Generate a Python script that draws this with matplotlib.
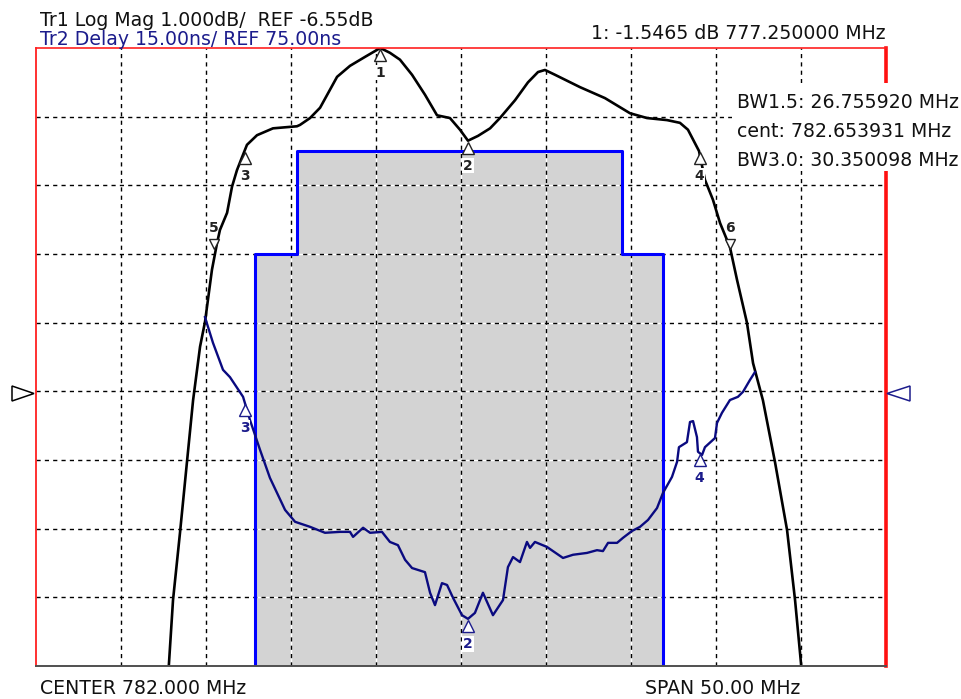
import numpy as np
import matplotlib
matplotlib.use('Agg')
import matplotlib.pyplot as plt
from matplotlib.patches import Polygon, Rectangle
from matplotlib.transforms import offset_copy

# analyzer scale settings
center_mhz = 782.0
span_mhz = 50.0
ref_db, db_div = -6.55, 1.0
ref_ns, ns_div = 75.0, 15.0
div_above, div_below = 5, 4   # ref line is 5 div below top, 4 above bottom

# Tr1 log mag (MHz, dB)
mag_f = [764.76, 765.06, 765.47, 765.88, 766.24, 766.65, 766.94, 767.35, 767.65, 767.82,
         768.24, 768.53, 768.82, 769.12, 769.41, 770.00, 770.94, 772.35, 772.53, 773.12,
         773.71, 774.71, 775.47, 776.35, 777.25, 777.82, 778.41, 779.12, 779.88, 780.59,
         781.35, 781.94, 782.41, 783.00, 783.71, 784.29, 785.18, 785.94, 786.53, 786.94,
         787.53, 789.00, 790.47, 791.94, 792.94, 794.12, 794.88, 795.35, 796.00, 796.35,
         796.82, 797.24, 797.82, 798.24, 798.82, 799.18, 799.76, 800.47, 801.18, 801.65,
         802.00, 802.06]
mag_db = [-10.75, -9.59, -8.61, -7.58, -6.68, -5.90, -5.54, -4.78, -4.39, -4.20,
          -3.95, -3.57, -3.33, -3.14, -2.96, -2.82, -2.72, -2.69, -2.67, -2.57,
          -2.42, -1.97, -1.81, -1.68, -1.55, -1.62, -1.72, -1.94, -2.23, -2.53,
          -2.57, -2.74, -2.90, -2.83, -2.72, -2.57, -2.31, -2.05, -1.90, -1.87,
          -1.94, -2.12, -2.28, -2.50, -2.57, -2.60, -2.64, -2.74, -3.05, -3.47,
          -3.76, -4.10, -4.45, -4.93, -5.55, -6.14, -6.68, -7.58, -8.57, -9.59,
          -10.51, -10.75]

# Tr2 group delay (MHz, ns)
dly_f = [766.94, 767.41, 768.00, 768.41, 769.18, 769.59, 770.18, 770.76, 771.65, 772.24,
         773.12, 774.00, 774.88, 775.47, 775.65, 776.24, 776.65, 777.35, 777.82, 778.29,
         778.71, 779.12, 779.88, 780.18, 780.47, 780.88, 781.18, 781.53, 782.06, 782.41,
         782.82, 783.29, 783.88, 784.47, 784.76, 785.06, 785.47, 785.88, 786.06, 786.35,
         787.06, 788.00, 788.59, 789.41, 790.00, 790.35, 790.65, 791.18, 791.53, 792.06,
         792.53, 793.00, 793.53, 793.88, 794.41, 794.71, 794.82, 795.29, 795.47, 795.65,
         795.88, 795.94, 796.18, 796.35, 796.94, 797.06, 797.35, 797.82, 798.29, 798.59,
         799.00, 799.29]
dly_ns = [91.2, 85.6, 79.7, 78.1, 73.8, 68.7, 62.2, 56.1, 49.1, 46.5,
          45.4, 44.1, 44.3, 44.3, 43.2, 45.2, 44.1, 44.3, 42.1, 41.4,
          38.2, 36.4, 35.5, 31.0, 28.3, 33.1, 32.7, 29.9, 26.1, 25.3,
          26.6, 31.0, 26.1, 29.4, 36.6, 38.8, 37.7, 42.1, 40.8, 42.1,
          41.0, 38.6, 39.3, 39.7, 40.3, 40.1, 41.9, 41.9, 43.0, 44.5,
          45.4, 46.9, 49.5, 52.8, 56.3, 59.6, 62.8, 63.9, 68.3, 68.5,
          65.0, 61.8, 61.1, 62.8, 64.8, 68.1, 70.3, 73.1, 73.8, 74.9,
          77.5, 79.2]

# limit mask: edges (MHz) and levels (dB)
mask_f = [769.9, 772.35, 791.45, 793.86]
mask_db = [-4.55, -3.05]

# markers
tr1_mk = ['1', '2', '3', '4', '5', '6']
tr1_mk_f = [777.25, 782.41, 769.28, 796.03, 767.48, 797.83]
tr1_mk_db = [-1.5465, -2.90, -3.05, -3.05, -4.55, -4.55]
tr2_mk = ['3', '2', '4']
tr2_mk_f = [769.28, 782.41, 796.03]
tr2_mk_ns = [72.5, 25.3, 61.5]

W, H = 962, 699
TR2_COL = '#1c1c8c'
DLY_COL = '#0a0a80'

plt.rcParams['font.family'] = ['DejaVu Sans']
fig = plt.figure(figsize=(W / 100, H / 100), dpi=100)
ax = fig.add_axes([36 / W, 33 / H, 850 / W, 618 / H])
f_lo, f_hi = center_mhz - span_mhz / 2, center_mhz + span_mhz / 2
db_top, db_bot = ref_db + div_above * db_div, ref_db - div_below * db_div
ax.set_xlim(f_lo, f_hi)
ax.set_ylim(db_bot, db_top)
ax.set_xticks([])
ax.set_yticks([])

# mask
mx = [mask_f[0], mask_f[0], mask_f[1], mask_f[1], mask_f[2], mask_f[2], mask_f[3], mask_f[3]]
my = [db_bot - 1, mask_db[0], mask_db[0], mask_db[1], mask_db[1], mask_db[0], mask_db[0], db_bot - 1]
ax.fill(mx, my, color='#d3d3d3', lw=0, zorder=1)

# grid: black dashes with white gaps
gx = np.arange(f_lo + span_mhz / 10, f_hi - 0.1, span_mhz / 10)
gy = ref_db + np.arange(-div_below + 1, div_above) * db_div
for lines in (ax.vlines(gx, db_bot, db_top), ax.hlines(gy, f_lo, f_hi)):
    lines.set(color='white', lw=1.0, zorder=2)
ax.vlines(gx, db_bot, db_top, color='black', lw=1.0, linestyles=(0, (3, 3)), zorder=2.1)
ax.hlines(gy, f_lo, f_hi, color='black', lw=1.0, linestyles=(0, (3, 3)), zorder=2.1)

ax.plot(mx, my, color='#0000ff', lw=2.2, zorder=3)

# Tr1 trace
ax.plot(mag_f, mag_db, color='black', lw=1.9, zorder=4)

for sp in ax.spines.values():
    sp.set_zorder(6)
ax.spines['left'].set(color='#ff2020', lw=1.3)
ax.spines['top'].set(color='#ff2020', lw=1.2)
ax.spines['right'].set(color='#ff1010', lw=2.6)
ax.spines['bottom'].set(color='#505050', lw=1.4)

# Tr2 on twin axis, same divisions
ax2 = ax.twinx()
ax2.set_ylim(ref_ns - div_below * ns_div, ref_ns + div_above * ns_div)
ax2.set_yticks([])
for sp in ax2.spines.values():
    sp.set_visible(False)
ax2.plot(dly_f, dly_ns, color=DLY_COL, lw=1.7, zorder=4)

def marker(axis, f, v, label, col, down=True):
    if down:
        tri = offset_copy(axis.transData, fig=fig, y=-5, units='points')
        axis.plot(f, v, marker='^', ms=8, mfc='white', mec=col, mew=1.0,
                  transform=tri, zorder=5, clip_on=False)
        dy = -18
    else:
        tri = offset_copy(axis.transData, fig=fig, y=7, units='points')
        axis.plot(f, v, marker='v', ms=7.5, mfc='white', mec=col, mew=1.0,
                  transform=tri, zorder=5, clip_on=False)
        dy = 19
    axis.annotate(label, (f, v), xytext=(0, dy), textcoords='offset points',
                  ha='center', va='center', fontsize=10, fontweight='bold',
                  color=col, zorder=5,
                  bbox=dict(boxstyle='square,pad=0.05', fc='white', ec='none') if down else None)

for lab, f, v in zip(tr1_mk, tr1_mk_f, tr1_mk_db):
    marker(ax, f, v, lab, '#222222', down=lab not in ('5', '6'))
for lab, f, v in zip(tr2_mk, tr2_mk_f, tr2_mk_ns):
    marker(ax2, f, v, lab, TR2_COL)

def fx(x):
    return x / W

def fy(y):
    return 1 - y / H

# white box behind marker readout
fig.patches.append(Rectangle((fx(732), fy(171)), fx(962) - fx(732), fy(83) - fy(171),
                             transform=fig.transFigure, fc='white', ec='none', zorder=2))

# reference arrows
fig.patches.append(Polygon([(fx(12), fy(386)), (fx(12), fy(401)), (fx(34), fy(393.5))],
                           closed=True, transform=fig.transFigure, fc='white', ec='black',
                           lw=1.1, zorder=2))
fig.patches.append(Polygon([(fx(910), fy(386)), (fx(910), fy(401)), (fx(887), fy(393.5))],
                           closed=True, transform=fig.transFigure, fc='white', ec=TR2_COL,
                           lw=1.1, zorder=2))

fs = 13.6
fig.text(fx(40), fy(26), 'Tr1 Log Mag 1.000dB/  REF -6.55dB', fontsize=fs, color='#111111', va='baseline')
fig.text(fx(40), fy(45), 'Tr2 Delay 15.00ns/ REF 75.00ns', fontsize=fs, color=TR2_COL, va='baseline')
fig.text(fx(886), fy(39), '1: -1.5465 dB 777.250000 MHz', fontsize=fs, color='#111111',
         va='baseline', ha='right')
fig.text(fx(737), fy(108), 'BW1.5: 26.755920 MHz', fontsize=fs, color='#111111', va='baseline', zorder=3)
fig.text(fx(737), fy(137), 'cent: 782.653931 MHz', fontsize=fs, color='#111111', va='baseline', zorder=3)
fig.text(fx(737), fy(166), 'BW3.0: 30.350098 MHz', fontsize=fs, color='#111111', va='baseline', zorder=3)
fig.text(fx(40), fy(694), 'CENTER 782.000 MHz', fontsize=fs, color='#111111', va='baseline')
fig.text(fx(645), fy(694), 'SPAN 50.00 MHz', fontsize=fs, color='#111111', va='baseline')

fig.savefig('out.png', dpi=100)
